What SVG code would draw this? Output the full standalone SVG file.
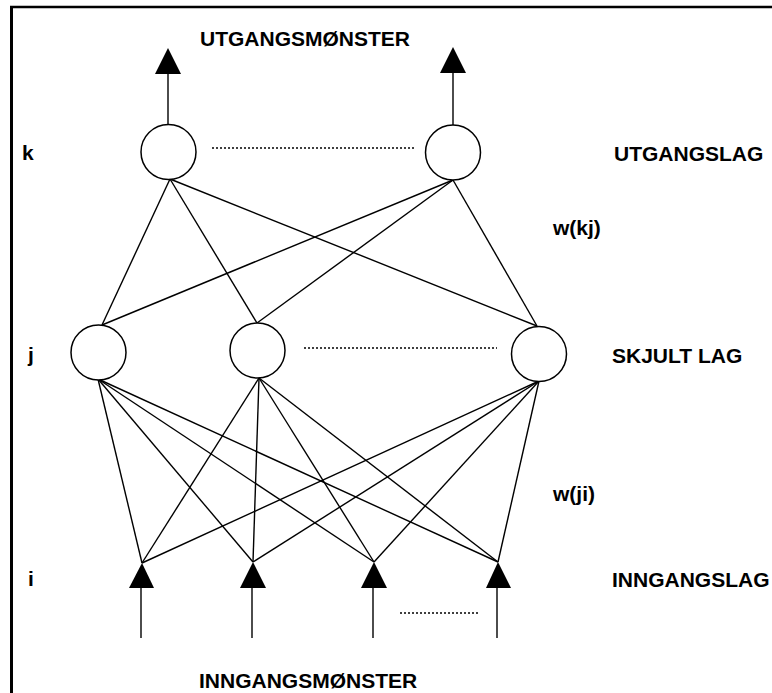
<svg xmlns="http://www.w3.org/2000/svg" width="772" height="693" viewBox="0 0 772 693">
<style>
.t{font-family:"Liberation Sans",Arial,sans-serif;font-weight:bold;font-size:21px;fill:#000}
.n{fill:#fff;stroke:#000;stroke-width:1.5}
.c line{stroke:#000;stroke-width:1.4}
.d{stroke:#000;stroke-width:1.2;stroke-dasharray:2 2}
.a{fill:#000}
</style>
<rect width="772" height="693" fill="#fff"/>
<g id="frame">
<line x1="11.5" y1="7" x2="11.5" y2="693" stroke="#000" stroke-width="3"/>
<line x1="10" y1="7" x2="772" y2="7" stroke="#000" stroke-width="2.5"/>
</g>
<g id="connectors" class="c">
<line x1="168" y1="125" x2="168" y2="74"/>
<line x1="453" y1="125" x2="453" y2="73"/>
<line x1="170" y1="179" x2="102" y2="325"/>
<line x1="170" y1="179" x2="257" y2="323"/>
<line x1="170" y1="179" x2="537" y2="326"/>
<line x1="453" y1="180" x2="102" y2="325"/>
<line x1="453" y1="180" x2="257" y2="323"/>
<line x1="453" y1="180" x2="537" y2="326"/>
<line x1="98" y1="379" x2="142" y2="563"/>
<line x1="98" y1="379" x2="253" y2="562"/>
<line x1="98" y1="379" x2="374" y2="562"/>
<line x1="98" y1="379" x2="498" y2="562"/>
<line x1="259" y1="378" x2="142" y2="563"/>
<line x1="259" y1="378" x2="253" y2="562"/>
<line x1="259" y1="378" x2="374" y2="562"/>
<line x1="259" y1="378" x2="498" y2="562"/>
<line x1="539" y1="381" x2="142" y2="563"/>
<line x1="539" y1="381" x2="253" y2="562"/>
<line x1="539" y1="381" x2="374" y2="562"/>
<line x1="539" y1="381" x2="498" y2="562"/>
<line x1="141" y1="588" x2="141" y2="638"/>
<line x1="252" y1="588" x2="252" y2="638"/>
<line x1="373" y1="588" x2="373" y2="638"/>
<line x1="497" y1="588" x2="497" y2="638"/>
<line class="d" x1="212" y1="148" x2="414" y2="148"/>
<line class="d" x1="304" y1="348" x2="497" y2="348"/>
<line class="d" x1="400" y1="613" x2="478" y2="613"/>
</g>
<g id="out-arrows">
<polygon class="a" points="168,48 155,74 181,74"/>
<polygon class="a" points="453,47 440,73 466,73"/>
</g>
<g id="k1"><circle class="n" cx="168.5" cy="152" r="27.5"/></g>
<g id="k2"><circle class="n" cx="453" cy="152.5" r="27.5"/></g>
<g id="j1"><circle class="n" cx="98.5" cy="352.5" r="27.5"/></g>
<g id="j2"><circle class="n" cx="257.5" cy="350.5" r="27.5"/></g>
<g id="j3"><circle class="n" cx="539" cy="354" r="27.5"/></g>
<g id="i1"><polygon class="a" points="142,563 129,588 154,588"/></g>
<g id="i2"><polygon class="a" points="253,562 240,588 266,588"/></g>
<g id="i3"><polygon class="a" points="374,562 361,588 387,588"/></g>
<g id="i4"><polygon class="a" points="498,562 486,588 511,588"/></g>
<g id="labels">
<text class="t" x="200" y="46">UTGANGSMØNSTER</text>
<text class="t" x="22" y="160">k</text>
<text class="t" x="614" y="161">UTGANGSLAG</text>
<text class="t" x="553" y="235">w(kj)</text>
<text class="t" x="28" y="362">j</text>
<text class="t" x="612" y="363">SKJULT LAG</text>
<text class="t" x="553" y="501">w(ji)</text>
<text class="t" x="28" y="586">i</text>
<text class="t" x="612" y="587">INNGANGSLAG</text>
<text class="t" x="199" y="688">INNGANGSMØNSTER</text>
</g>
</svg>
